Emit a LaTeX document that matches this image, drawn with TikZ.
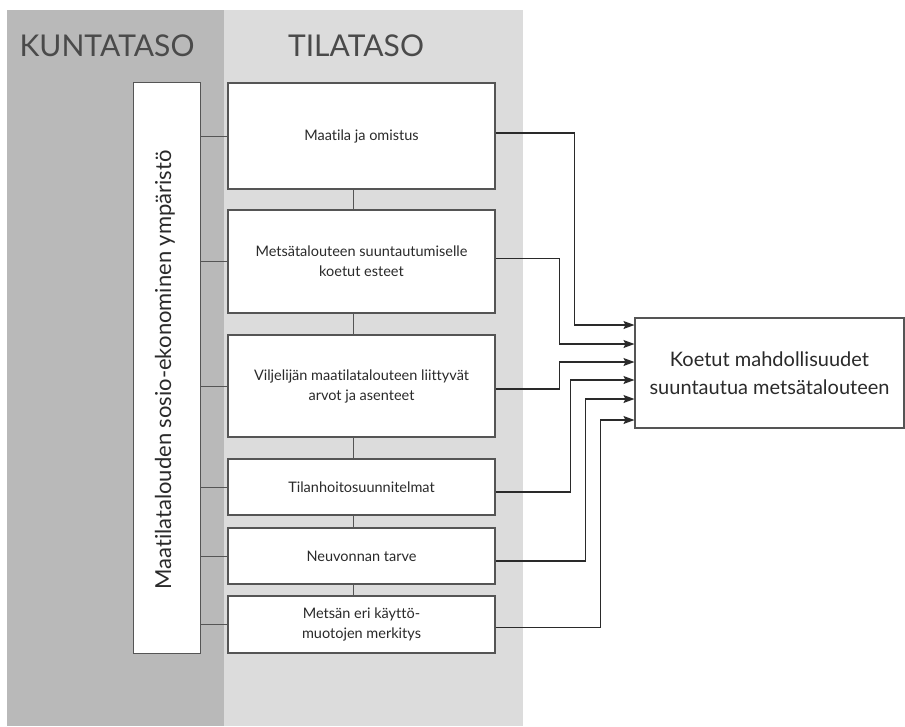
\documentclass[tikz,border=0pt]{standalone}
\usepackage{fontspec}
\setmainfont{Lato}[Ligatures=NoCommon]
\usetikzlibrary{arrows.meta,calc}
\definecolor{kunta}{HTML}{B9B9B9}
\definecolor{tila}{HTML}{DCDCDC}
\definecolor{ink}{HTML}{2A2A2A}
\definecolor{frame}{HTML}{555555}
\tikzset{
  tbox/.style={draw=frame, line width=1.1pt, fill=white, minimum width=267pt, align=center,
               font=\fontsize{14.5}{20}\selectfont, text=ink, inner sep=0pt},
  title/.style={font=\fontsize{30}{32}\selectfont, text=ink!85, inner sep=0pt},
  arr/.style={draw=ink, line width=1.1pt, -{Stealth[length=11pt,width=8pt,inset=2pt]}},
  lnk/.style={draw=frame, line width=0.8pt},
  rlnk/.style={draw=frame, line width=0.9pt}
}
\begin{document}
\begin{tikzpicture}[x=1pt,y=-1pt]
\useasboundingbox (0,0) rectangle (905,726);
\fill[kunta] (7,10) rectangle (224,726);
\fill[tila] (224,10) rectangle (523,726);
\node[title] (kt) at (107,46) {KUNTATASO};
\node[title] (tt) at (356,46) {TILATASO};

\node[draw=frame, line width=1.1pt, fill=white, minimum width=67pt, minimum height=571pt, inner sep=0pt] (env) at (167,368) {};
\node[rotate=90, font=\fontsize{22}{24}\selectfont, text=ink, inner sep=0pt] (envt) at ([xshift=-2pt,yshift=-2pt]env.center) {Maatilatalouden sosio-ekonominen ympäristö};

\node[tbox, minimum height=106pt] (b1) at (361.5,136) {Maatila ja omistus};
\node[tbox, minimum height=103pt] (b2) at (361.5,261.5) {Metsätalouteen suuntautumiselle\\koetut esteet};
\node[tbox, minimum height=102pt] (b3) at (361.5,386) {Viljelijän maatilatalouteen liittyvät\\arvot ja asenteet};
\node[tbox, minimum height=56pt] (b4) at (361.5,487) {Tilanhoitosuunnitelmat};
\node[tbox, minimum height=56pt] (b5) at (361.5,556) {Neuvonnan tarve};
\node[tbox, minimum height=57pt] (b6) at (361.5,624.5) {Metsän eri käyttö-\\muotojen merkitys};

\node[draw=frame, line width=1.1pt, fill=white, minimum width=269pt, minimum height=110pt, align=center,
      font=\fontsize{20}{28}\selectfont, text=ink, inner sep=0pt] (tgt) at (769.5,373) {Koetut mahdollisuudet\\suuntautua metsätalouteen};

% vertical links between farm-level boxes
\foreach \a/\b in {b1/b2,b2/b3,b3/b4,b4/b5,b5/b6}
  \draw[lnk] ([xshift=-8.5pt]\a.south) -- ([xshift=-8.5pt]\b.north);
% links from municipal environment
\foreach \b in {b1,b2,b3,b4,b5,b6}
  \draw[lnk] (env.east |- \b.west) -- (\b.west);

% arrow targets
\coordinate (t1) at ([yshift=48pt]tgt.west);
\coordinate (t2) at ([yshift=29pt]tgt.west);
\coordinate (t3) at ([yshift=11pt]tgt.west);
\coordinate (t4) at ([yshift=-7pt]tgt.west);
\coordinate (t5) at ([yshift=-26pt]tgt.west);
\coordinate (t6) at ([yshift=-47pt]tgt.west);

\draw[arr] ([yshift=3pt]b1.east) -| ([xshift=-60pt]t1) -- (t1);
\draw[arr] ([yshift=3pt]b2.east) -| ([xshift=-75pt]t2) -- (t2);
\draw[arr] ([yshift=-3pt]b3.east) -| ([xshift=-75pt]t3) -- (t3);
\draw[arr] ([yshift=-5pt]b4.east) -| ([xshift=-64pt]t4) -- (t4);
\draw[arr] ([yshift=-5pt]b5.east) -| ([xshift=-49pt]t5) -- (t5);
\draw[arr] ([yshift=-3pt]b6.east) -| ([xshift=-34pt]t6) -- (t6);
\end{tikzpicture}
\end{document}
